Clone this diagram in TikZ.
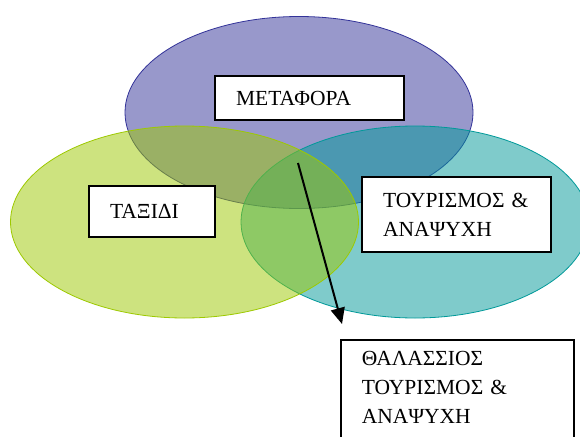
\documentclass[tikz,border=0pt]{standalone}
\usepackage{fontspec}
\setmainfont{Liberation Serif}
\usetikzlibrary{arrows.meta}
\definecolor{metaphora}{RGB}{51,51,153}
\definecolor{taxidi}{RGB}{157,201,0}
\definecolor{tourismos}{RGB}{0,153,153}
\tikzset{box/.style={draw, line width=1.5pt, fill=white, align=left, inner xsep=21pt, font=\fontsize{21.5}{29}\selectfont}}

\begin{document}
\begin{tikzpicture}[x=1pt,y=-1pt]
	\clip (0,0) rectangle (580,436);
	\fill[white] (0,0) rectangle (580,436);
	\foreach \col/\x/\y in {metaphora/299/112.5,tourismos/415/222,taxidi/184.5/222}{
			\draw[\col, line width=0.8pt, fill=\col, fill opacity=0.5] (\x,\y) ellipse [x radius=174pt, y radius=96pt];
		}
	%
	\node[box, minimum height=44pt, text width=147pt] (metaphora) at (309.5,98) {ΜΕΤΑΦΟΡΑ};
	\node[box, minimum height=51pt, text width=84pt] (taxidi) at (152,211.5) {ΤΑΞΙΔΙ};
	\node[box, minimum height=75pt, text width=147pt] (tourismos) at (456.5,214.5) {ΤΟΥΡΙΣΜΟΣ~\&\\ΑΝΑΨΥΧΗ};
	\node[box, text width=191pt, inner ysep=12pt, anchor=north west] (thalassios) at (340,339) {ΘΑΛΑΣΣΙΟΣ\\ΤΟΥΡΙΣΜΟΣ~\&\\ΑΝΑΨΥΧΗ\rule[-40pt]{0pt}{40pt}};
	\coordinate (arrtail) at (298,163);
	\coordinate (arrtip) at (342,324);
	\draw[line width=2pt, -{Triangle[length=16pt, width=14pt]}] (arrtail) -- (arrtip);
\end{tikzpicture}
\end{document}
